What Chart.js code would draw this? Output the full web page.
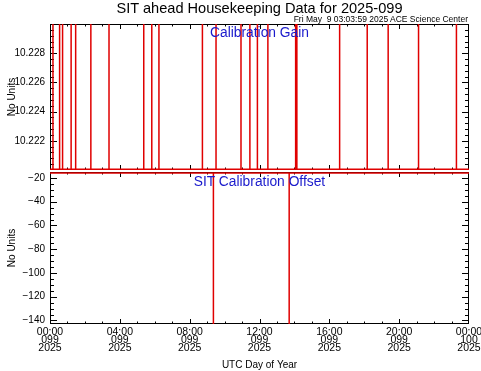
<!DOCTYPE html>
<html>
<head>
<meta charset="utf-8">
<script src="https://cdn.jsdelivr.net/npm/chart.js@4/dist/chart.umd.min.js"></script>
<style>
  body { margin: 0; background: #fff; }
  #wrap { position: relative; width: 481px; height: 371px; overflow: hidden; font-family: "Liberation Sans", Arial, sans-serif; }
  canvas { position: absolute; left: 0; }
  .txt { position: absolute; white-space: pre; line-height: 1; }
</style>
</head>
<body>
<div id="wrap">
  <canvas id="chartGain" width="481" height="172" style="top:0"></canvas>
  <canvas id="chartOffset" width="481" height="199" style="top:172px"></canvas>
  <div class="txt" style="left:0;width:519px;top:1px;text-align:center;font-size:14.6px;">SIT ahead Housekeeping Data for 2025-099</div>
  <div class="txt" style="right:13px;top:15px;font-size:8.5px;">Fri May  9 03:03:59 2025 ACE Science Center</div>
  <div class="txt" style="left:0;width:519px;top:26px;text-align:center;font-size:13.8px;color:#1a1acc;">Calibration Gain</div>
  <div class="txt" style="left:0;width:519px;top:175px;text-align:center;font-size:13.8px;color:#1a1acc;">SIT Calibration Offset</div>
</div>
<script>
// hours of day 099 where the gain jumps off its baseline
const gainSpikeHours = [0.17, 0.55, 0.72, 1.21, 1.47, 2.34, 3.38, 5.37, 5.83, 6.24, 8.73, 9.51,
  10.94, 11.45, 11.88, 12.48, 14.07, 14.14, 16.59, 18.17, 19.37, 21.11, 23.28];
const gainBase = 10.22005;
const gainSpike = 10.2300;

const offsetSpikeHours = [9.36, 13.70];
const offsetBase = -15.8;
const offsetSpike = -143;

const gainTicks = [10.222, 10.224, 10.226, 10.228];
const offsetTicks = [-20, -40, -60, -80, -100, -120, -140];
const hourTicks = [0, 4, 8, 12, 16, 20, 24];
const hourTickLabels = [
  ["00:00", "099", "2025"], ["04:00", "099", "2025"], ["08:00", "099", "2025"],
  ["12:00", "099", "2025"], ["16:00", "099", "2025"], ["20:00", "099", "2025"],
  ["00:00", "100", "2025"]
];

function spikeSeries(hours, base, peak) {
  const pts = [{ x: 0, y: base }];
  hours.forEach(h => pts.push({ x: h, y: base }, { x: h, y: peak }, { x: h, y: base }));
  pts.push({ x: 24, y: base });
  return pts;
}

// IDL style frame: box with ticks pointing inwards on all four sides
const insideTicks = {
  id: "insideTicks",
  beforeDatasetsDraw(chart, args, opts) {
    const { ctx, chartArea: a, scales: { x, y } } = chart;
    ctx.save();
    ctx.strokeStyle = "#000";
    ctx.lineWidth = 1;
    ctx.strokeRect(a.left + 0.5, a.top + 0.5, a.right - a.left - 1, a.bottom - a.top - 1);
    ctx.beginPath();
    const yTick = (v, len) => {
      const p = Math.round(y.getPixelForValue(v)) + 0.5;
      if (p <= a.top + 1 || p >= a.bottom - 1) return;
      ctx.moveTo(a.left, p); ctx.lineTo(a.left + len, p);
      ctx.moveTo(a.right, p); ctx.lineTo(a.right - len, p);
    };
    const xTick = (v, len) => {
      const p = Math.round(x.getPixelForValue(v)) + 0.5;
      if (p <= a.left + 1 || p >= a.right - 1) return;
      ctx.moveTo(p, a.bottom); ctx.lineTo(p, a.bottom - len);
      ctx.moveTo(p, a.top); ctx.lineTo(p, a.top + len);
    };
    for (let v = Math.ceil(y.min / opts.yMinor) * opts.yMinor; v < y.max; v += opts.yMinor) yTick(v, 4);
    opts.yMajor.forEach(v => yTick(v, 7));
    for (let h = 1; h < 24; h++) xTick(h, 2.5);
    hourTicks.forEach(h => xTick(h, 5));
    ctx.stroke();
    ctx.restore();
  }
};

const font = { family: "'Liberation Sans', Arial, sans-serif", size: 10 };

function yAxis(min, max, ticks, fmt) {
  return {
    min: min, max: max,
    afterFit: s => { s.width = 50; s.paddingTop = 0; s.paddingBottom = 0; },
    afterBuildTicks: s => { s.ticks = ticks.map(v => ({ value: v })); },
    grid: { display: false, drawTicks: false },
    border: { display: false },
    ticks: { color: "#000", font: font, padding: 5, callback: fmt },
    title: { display: true, text: "No Units", color: "#000", font: font, padding: { top: 6, bottom: 0 } }
  };
}

document.addEventListener("DOMContentLoaded", () => {
  new Chart(document.getElementById("chartGain"), {
    type: "line",
    data: {
      datasets: [{
        data: spikeSeries(gainSpikeHours, gainBase, gainSpike),
        borderColor: "#e00000", borderWidth: 1.5, pointRadius: 0, tension: 0
      }]
    },
    plugins: [insideTicks],
    options: {
      responsive: false, animation: false,
      layout: { padding: { left: 0, right: 12, top: 24, bottom: 2 } },
      plugins: {
        legend: { display: false }, tooltip: { enabled: false },
        insideTicks: { yMinor: 0.0004, yMajor: gainTicks }
      },
      scales: {
        x: { type: "linear", min: 0, max: 24, display: false },
        y: yAxis(10.220, 10.230, gainTicks, v => v.toFixed(3))
      }
    }
  });

  new Chart(document.getElementById("chartOffset"), {
    type: "line",
    data: {
      datasets: [{
        data: spikeSeries(offsetSpikeHours, offsetBase, offsetSpike),
        borderColor: "#e00000", borderWidth: 1.5, pointRadius: 0, tension: 0
      }]
    },
    plugins: [insideTicks],
    options: {
      responsive: false, animation: false,
      layout: { padding: { left: 0, right: 12, top: 0, bottom: 0 } },
      plugins: {
        legend: { display: false }, tooltip: { enabled: false },
        insideTicks: { yMinor: 5, yMajor: offsetTicks }
      },
      scales: {
        x: {
          type: "linear", min: 0, max: 24,
          afterFit: s => { s.height = 47; s.paddingLeft = 0; s.paddingRight = 0; },
          afterBuildTicks: s => { s.ticks = hourTicks.map(v => ({ value: v })); },
          grid: { display: false, drawTicks: false },
          border: { display: false },
          ticks: {
            color: "#000", font: { family: font.family, size: 10.5, lineHeight: 0.78 },
            padding: 4, maxRotation: 0, autoSkip: false,
            callback: (v, i) => hourTickLabels[i]
          },
          title: { display: true, text: "UTC Day of Year", color: "#000", font: font, padding: { top: 0, bottom: 0 } }
        },
        y: yAxis(-143, -15, offsetTicks, v => String(v).replace("-", "\u2212"))
      }
    }
  });
});
</script>
</body>
</html>
